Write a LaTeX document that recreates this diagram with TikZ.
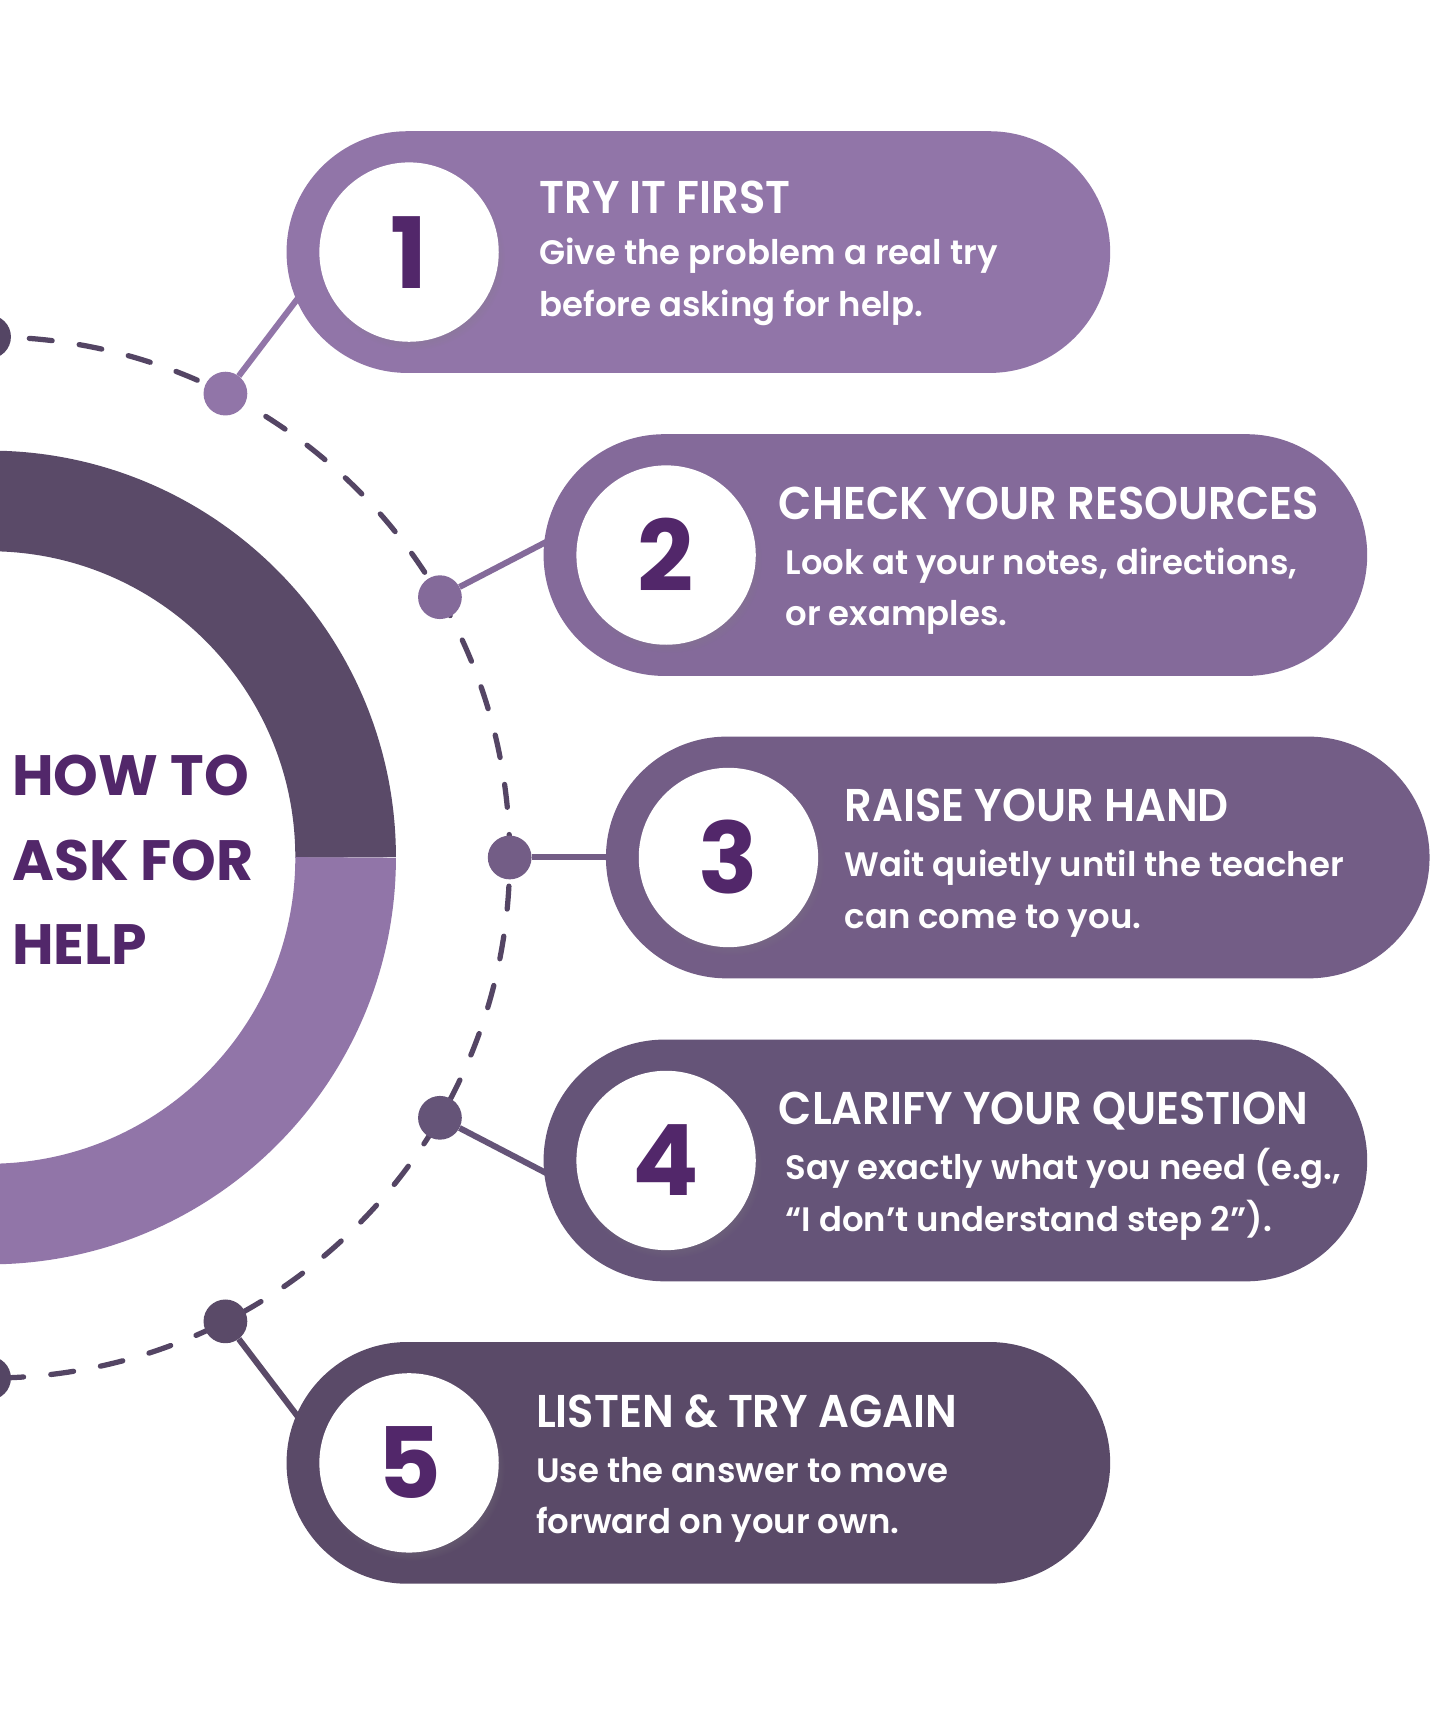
\documentclass[tikz,border=0pt]{standalone}
\usepackage{fontspec}
\setmainfont{Poppins}[UprightFont={* SemiBold},BoldFont={* Bold}]
\newfontfamily\headfont{Poppins}[UprightFont={* SemiBold},FakeStretch=0.94]
\usetikzlibrary{calc,positioning,shadows}
\definecolor{deep}{RGB}{82,39,106}
\definecolor{lilac}{RGB}{145,117,168}
\definecolor{mauve}{RGB}{132,106,154}
\definecolor{plum}{RGB}{115,93,134}
\definecolor{grape}{RGB}{101,84,120}
\definecolor{dusk}{RGB}{90,74,104}
\definecolor{dashc}{RGB}{84,69,100}

\begin{document}
\begin{tikzpicture}[x=1pt,y=1pt,
    pill/.style={rounded corners=110.5pt,minimum width=753pt,minimum height=221pt,inner sep=0pt},
    numdisc/.style={circle,fill=white,minimum size=164pt,inner sep=0pt,text=deep,font=\fontsize{90}{90}\selectfont\bfseries,
      circular drop shadow={shadow xshift=3pt,shadow yshift=-5pt,opacity=0.35,shadow scale=1.03}},
    stepdot/.style={circle,minimum size=40pt,inner sep=0pt},
    link/.style={line width=5.5pt},
    head/.style={anchor=base west,inner sep=0pt,text=white,font=\headfont\fontsize{42}{42}\selectfont},
    body/.style={anchor=base west,inner sep=0pt,text=white,font=\fontsize{31}{31}\selectfont},
    title/.style={anchor=base west,inner sep=0pt,text=deep,font=\fontsize{52}{52}\selectfont\bfseries}]
  \useasboundingbox (0,0) rectangle (1331,1568);
  \fill[white] (0,0) rectangle (1331,1568);
  \clip (0,0) rectangle (1331,1568);
  \coordinate (C) at (-10,784);
  % ring and dashed track
  \draw[dusk,line width=92pt] ($(C)+(0:326)$) arc (0:180:326);
  \draw[lilac,line width=92pt] ($(C)+(0:326)$) arc (0:-180:326);
  \draw[dashc,line width=4.8pt,line cap=round,dash pattern=on 21pt off 25pt] (C) circle (476);
  % dots on the track
  \node[stepdot,fill=dashc] (d0) at ($(C)+(90:476)$) {};
  \node[stepdot,fill=lilac] (d1) at ($(C)+(63:476)$) {};
  \node[stepdot,fill=mauve] (d2) at ($(C)+(30:476)$) {};
  \node[stepdot,fill=plum] (d3) at ($(C)+(0:476)$) {};
  \node[stepdot,fill=grape] (d4) at ($(C)+(-30:476)$) {};
  \node[stepdot,fill=dusk] (d5) at ($(C)+(-63:476)$) {};
  \node[stepdot,fill=dashc] (d6) at ($(C)+(-90:476)$) {};
  \coordinate (e1) at (279,1304);
  \coordinate (e2) at (508,1077);
  \coordinate (e3) at (565,784);
  \coordinate (e4) at (508,491);
  \coordinate (e5) at (279,264);
  \draw[link,lilac] (d1) -- (e1);
  \draw[link,mauve] (d2) -- (e2);
  \draw[link,plum] (d3) -- (e3);
  \draw[link,grape] (d4) -- (e4);
  \draw[link,dusk] (d5) -- (e5);
  % pills
  \node[pill,fill=lilac] (p1) at (638.5,1337.5) {};
  \node[pill,fill=mauve] (p2) at (873.5,1060.5) {};
  \node[pill,fill=plum] (p3) at (930.5,784) {};
  \node[pill,fill=grape] (p4) at (873.5,507) {};
  \node[pill,fill=dusk] (p5) at (638.5,230.5) {};
  \node[numdisc] (n1) at (374,1337.5) {1};
  \node[numdisc] (n2) at (609,1060.5) {2};
  \node[numdisc] (n3) at (666,784) {3};
  \node[numdisc] (n4) at (609,507) {4};
  \node[numdisc] (n5) at (374,230.5) {5};
  % texts
  \node[head] (h1) at (493,1373) {TRY IT FIRST};
  \node[body] (b1a) at (493,1326) {Give the problem a real try};
  \node[body] (b1b) at (493,1279) {before asking for help.};
  \node[head] (h2) at (712,1093) {CHECK YOUR RESOURCES};
  \node[body] (b2a) at (718,1043) {Look at your notes, directions,};
  \node[body] (b2b) at (718,996) {or examples.};
  \node[head] (h3) at (772,816.5) {RAISE YOUR HAND};
  \node[body] (b3a) at (772,766.5) {Wait quietly until the teacher};
  \node[body] (b3b) at (772,719.5) {can come to you.};
  \node[head] (h4) at (712,539.5) {CLARIFY YOUR QUESTION};
  \node[body] (b4a) at (718,489.5) {Say exactly what you need (e.g.,};
  \node[body] (b4b) at (718,442.5) {“I don’t understand step 2”).};
  \node[head] (h5) at (490,263) {LISTEN \& TRY AGAIN};
  \node[body] (b5a) at (490,213) {Use the answer to move};
  \node[body] (b5b) at (490,166) {forward on your own.};
  \node[title] (t1) at (11,841) {HOW TO};
  \node[title] (t2) at (11,763) {ASK FOR};
  \node[title] (t3) at (11,686) {HELP};
\end{tikzpicture}
\end{document}
